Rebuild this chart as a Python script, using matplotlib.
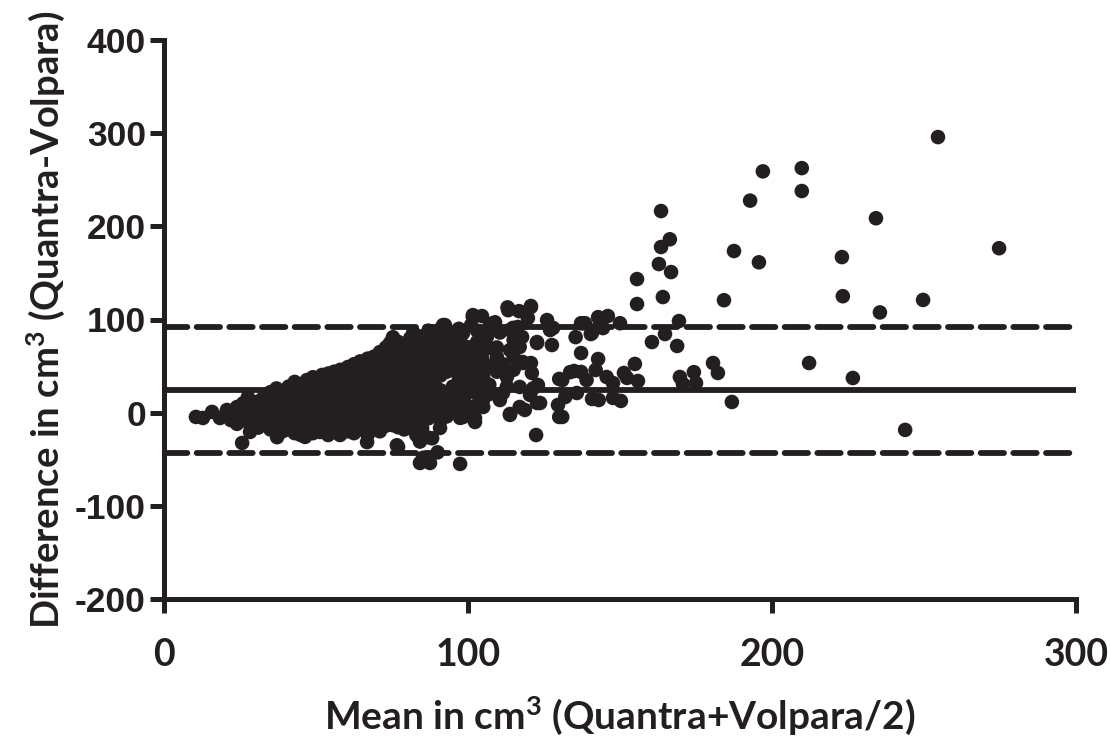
import matplotlib
matplotlib.use("Agg")
import matplotlib.pyplot as plt

plt.rcParams["axes.unicode_minus"] = False
plt.rcParams["mathtext.fontset"] = "custom"
plt.rcParams["mathtext.rm"] = "Lato:bold"
plt.rcParams["mathtext.it"] = "Lato:bold"
plt.rcParams["mathtext.bf"] = "Lato:bold"

# ---- data: mean (x) and difference (y) ----
core_mean = [10.5, 12.8, 15.8, 18.4, 20.7, 20.7, 22, 22, 24, 24, 24, 25.7, 26, 26, 26, 27.6, 27.6, 28.3,
             29, 29, 29, 31, 31, 31, 31, 33, 33, 33, 33, 35, 35, 35, 35, 35, 37.2,
             37, 37, 37, 37, 37, 39, 39, 39, 39, 39, 41, 41, 41, 41, 41,
             43, 43, 43, 43, 43, 43, 45, 45, 45, 45, 45, 45, 46.4,
             47, 47, 47, 47, 47, 47, 49, 49, 49, 49, 49, 49, 49, 51.3,
             52, 52, 52, 52, 52, 52, 54, 54, 54, 54, 54, 54, 54, 54,
             56, 56, 56, 56, 56, 56, 56, 57.9, 58, 58, 58, 58, 58, 58, 59.5,
             60.5, 60.5, 60.5, 60.5, 60.5, 60.5, 60.5, 61.2,
             62.5, 62.5, 62.5, 62.5, 62.5, 62.5, 62.5, 62.5,
             64.5, 64.5, 64.5, 64.5, 64.5, 64.5, 64.5, 64.5, 66.8,
             67, 67, 67, 67, 67, 67, 67, 67, 67, 68.8, 68.8,
             69, 69, 69, 69, 69, 69, 69, 69,
             71, 71, 71, 71, 71, 71, 71, 71, 71,
             73, 73, 73, 73, 73, 73, 73, 73, 73, 74.3, 75.3, 75.3,
             75, 75, 75, 75, 75, 75, 75, 75, 75, 76.6,
             77, 77, 77, 77, 77, 77, 77, 77, 77, 77,
             79, 79, 79, 79, 79, 79, 79, 79, 79,
             81, 81, 81, 81, 81, 81, 81, 81, 81, 82, 83.2,
             83, 83, 83, 83, 83, 83, 83, 83, 83, 83,
             84.2, 84.2, 84.2, 84.9, 85, 85, 85, 85, 85, 85, 85, 85, 85.2, 86.5, 86.8,
             87, 87, 87, 87, 87, 87, 87, 87, 87, 87.5, 87.5, 88.2,
             89, 89, 89, 89, 89, 89, 89, 89, 90, 90.8,
             91, 91, 91, 91, 91, 91, 91, 91, 91, 91.8, 92.4,
             93, 93, 93, 93, 93, 93, 93,
             95, 95, 95, 95, 95, 95, 95, 97.4, 97.4, 97.4,
             97, 97, 97, 97, 97, 97, 97, 98.4, 98.4,
             99, 99, 99, 99, 99, 99, 99.7, 99.7, 100.7]
core_diff = [-4.6, -5.7, 0.8, -5.7, 2.9, -3, -8, 1, -2, 6, -12, -32.5, 3, -6, 10, 16.8, -10, -20.7,
             0, 8, -14, 12, -4, 4, -16, 18, 6, -8, -2, 22, 10, 0, -12, -18, -26.3,
             15, 26, 4, -6, -15, 20, 8, -2, -12, -20, 28, 14, 2, -8, -18,
             33, 22, 10, 0, -10, -22, 30, 18, 6, -4, -14, -24, -26,
             35, 25, 12, 2, -8, -18, 38, 28, 16, 6, -4, -14, -22, -20.7,
             40.5, 30, 20, 10, 0, -10, 42, 34, 22, 12, 2, -8, -18, -24,
             44, 36, 26, 14, 4, -6, -16, -24, 46, 30, 18, 8, -2, -12, -16.4,
             49, 38, 26, 14, 4, -6, -20, 48,
             52, 42, 32, 20, 10, 0, -10, -22,
             55, 45, 34, 24, 12, 2, -8, -18, -31.6,
             58, 48, 36, 26, 16, 6, -4, -14, -24, -16.4, 58.7,
             60, 50, 40, 30, 20, 10, 0, -10,
             65, 54, 44, 32, 22, 12, 2, -8, -20,
             70, 58, 46, 36, 24, 14, 4, -6, -14, 74.6, 81, -13.4,
             74, 62, 50, 38, 28, 18, 8, -2, -10, -35,
             76, 64, 52, 42, 30, 20, 10, 0, -15.6, -36.7,
             70, 58, 46, 34, 24, 14, 4, -6, -18,
             80, 66, 54, 42, 30, 20, 10, 0, -10, 86, 74.6,
             74, 60, 48, 36, 26, 16, 6, -4, -14, -24,
             -54, -31, -29.5, -16.6, 82, 68, 56, 44, 32, 22, 12, 2, -48.5, -26.3, 78,
             88, 74, 62, 50, 38, 26, 16, 6, -6, -54, 81, -27.5,
             84, 70, 58, 46, 30, 20, 10, 0, -42.6, -16.4,
             90, 76, 64, 52, 40, 24, 12, 2, -8, 94, 94,
             80, 68, 56, 44, 18, 8, -4,
             86, 72, 60, 48, 28, 14, 4, 81, -5.6, -55,
             90, 76, 64, 50, 38, 22, 10, 85.5, -4.6,
             70, 58, 44, 30, 18, 6, 70.5, 49, 6]

spread_mean = [101, 101, 101, 101, 101, 101.6, 101.6, 102.3, 102.3,
               103, 103, 103, 103, 103, 103, 103, 104, 104.6, 104.6,
               105, 105, 105, 105, 105, 106, 106.2, 106.6, 107, 107, 107, 107, 108.2, 108.9,
               109.5, 109.5, 109.5, 110.5, 110.5, 111.5, 111.5, 112.8, 112.8, 113, 113.2, 113.2,
               113.8, 113.8, 113.8, 113.8, 114.8, 115, 115, 115, 116.4, 116.8, 117, 117, 117,
               117.8, 118, 118, 118.7, 119.7, 120.4, 120.7, 120.7, 120.7, 121, 121.4, 122.4,
               122.7, 122.7, 122.7, 123, 123.7, 126, 127, 127.6, 128, 129.6, 130, 130, 131, 131,
               132, 133.6, 134.9, 135.4, 135.8, 137.2, 137.2, 137.2, 137.8, 138.5, 139, 140.4,
               140.8, 140.8, 142, 142.8, 142.8, 143, 143, 144.4, 145.6, 146, 147.7, 147.7, 150,
               150.3, 151.3, 152.3, 154.9, 155.6, 155.6, 155.9, 160.5, 162.8, 163.5, 163.5, 164.1,
               164.8, 166.4, 166.8, 168.8, 169.4, 169.7, 170.7, 174.3, 175, 180.6, 182.2, 184.2,
               186.8, 187.5, 192.8, 195.7, 197, 209.8, 209.8, 212.2, 223, 223.3, 226.6, 234.2,
               235.5, 243.8, 249.7, 254.6, 274.7]
spread_diff = [94, 64, 52, 40, 26, 102.5, 104.7, -10, -5.6,
               88, 76, 58, 46, 34, 20, 8, 24.4, 103.7, 58.7,
               70, 82, 40, 6.1, 14, 81, 81.2, 69.4, 92, 50, 30, 20, 96, 97,
               59.8, 44, 70, 13.6, 86, 21.1, 52, 38.3, 28, 113, 110, 112.1,
               88.7, 67.3, -2.4, -1.4, 91, 60, 46, 78, 92, 109, 6.1, 27.6, 70.5,
               81.2, 54.4, 53.3, 2.9, 101.5, 19, 113.4, 114.5, 53.3, 42.6, 26, -24,
               74.8, 75.8, 10.4, 29.7, 10.4, 99.4, 88.7, 72.6, 90.9, 8.3, 36.2, -4.6, -4.6, 35,
               16.8, 43.5, 44.7, 81.1, 21.1, 96, 64, 43.7, 96, 96, 35, 84.4,
               14.7, 85.5, 45.8, 102.5, 57.6, 92, 13.6, 90.8, 38.3, 103.7, 31.8, 15.8, 96,
               12.6, 42.6, 37.3, 52.3, 143.4, 116.6, 34, 75.8, 159.5, 216.4, 177.8, 124.1,
               84.4, 186.1, 150.9, 71.6, 98.3, 38.3, 30.8, 43.5, 31.8, 53.3, 42.6, 120.7,
               11.5, 173.5, 227.6, 161.4, 259, 262.5, 237.9, 53.3, 167, 125, 37.2, 208.7,
               107.6, -18.5, 121, 295.8, 176.5]

bias = 24
upper_loa = 91.5
lower_loa = -43.5

x_ticks = [0, 100, 200, 300]
y_ticks = [-200, -100, 0, 100, 200, 300, 400]

ink = "#231f20"

fig = plt.figure(figsize=(11.10, 7.36), dpi=100)
ax = fig.add_axes([164 / 1110, 1 - 599 / 736, (1076 - 164) / 1110, (599 - 40) / 736])

ax.axhline(bias, color=ink, lw=4.2, zorder=1)
for v in (upper_loa, lower_loa):
    ax.axhline(v, color=ink, lw=4.2, ls=(0, (4.0, 1.6)), dash_capstyle="round", zorder=1)

ax.scatter(core_mean, core_diff, s=110, color=ink, edgecolors="none", zorder=2)
ax.scatter(spread_mean, spread_diff, s=110, color=ink, edgecolors="none", zorder=2)

ax.set_xlim(0, 300)
ax.set_ylim(-200, 400)
ax.set_xticks(x_ticks)
ax.set_yticks(y_ticks)
for s in ("top", "right"):
    ax.spines[s].set_visible(False)
for s in ("left", "bottom"):
    ax.spines[s].set_linewidth(3.6)
    ax.spines[s].set_color(ink)
ax.tick_params(axis="both", width=3.6, length=10, color=ink)
ax.tick_params(axis="y", pad=3)
ax.tick_params(axis="x", pad=18)

for lab in ax.get_yticklabels():
    lab.set_fontfamily("Liberation Sans")
    lab.set_fontweight("bold")
    lab.set_fontsize(25.5)
    lab.set_color(ink)
for lab in ax.get_xticklabels():
    lab.set_fontfamily("Lato")
    lab.set_fontweight("bold")
    lab.set_fontsize(27)
    lab.set_color(ink)

ax.set_xlabel(r"Mean in cm$^{3}$ (Quantra+Volpara/2)", fontfamily="Lato", fontweight="bold",
              fontsize=28, color=ink, labelpad=16)
ax.set_ylabel(r"Difference in cm$^{3}$ (Quantra-Volpara)", fontfamily="Lato", fontweight="bold",
              fontsize=27.5, color=ink, labelpad=6)

fig.savefig("out.png", dpi=100)
